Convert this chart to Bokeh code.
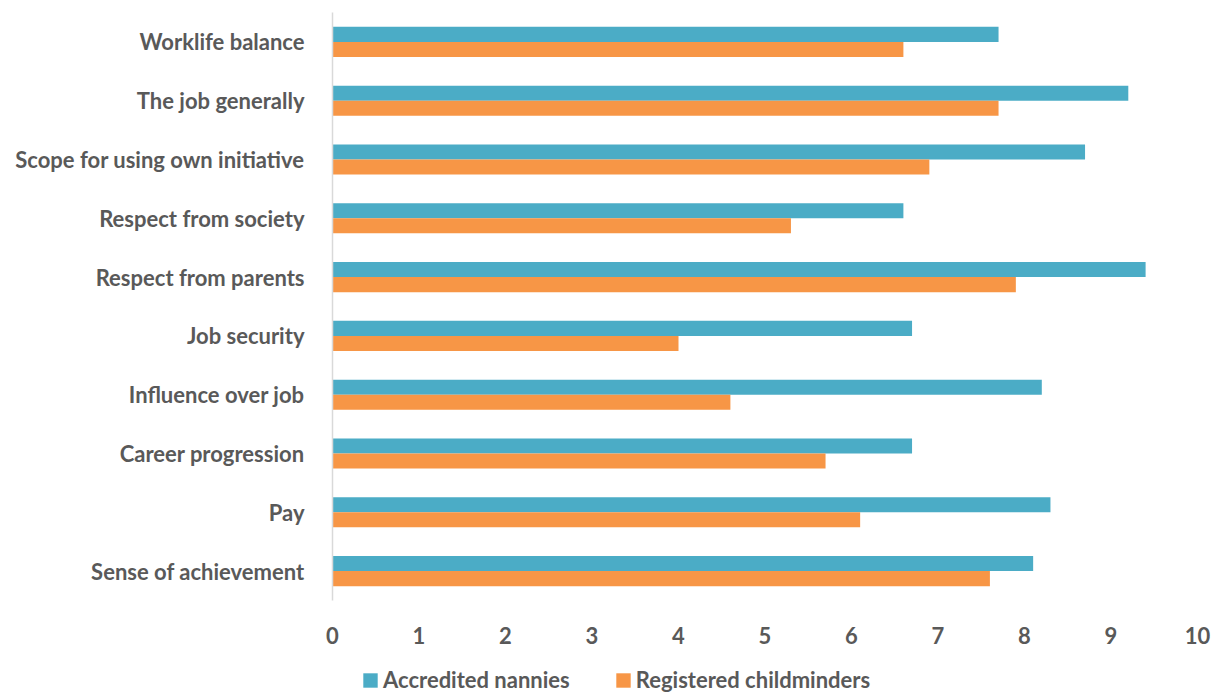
from bokeh.plotting import figure
from bokeh.models import FactorRange, Legend, LegendItem, FixedTicker, ColumnDataSource
from bokeh.layouts import column
from bokeh.transform import dodge
from bokeh.embed import file_html
from bokeh.resources import INLINE

categories = ["Worklife balance", "The job generally", "Scope for using own initiative",
              "Respect from society", "Respect from parents", "Job security",
              "Influence over job", "Career progression", "Pay", "Sense of achievement"]
nannies = [7.7, 9.2, 8.7, 6.6, 9.4, 6.7, 8.2, 6.7, 8.3, 8.1]
childminders = [6.6, 7.7, 6.9, 5.3, 7.9, 4.0, 4.6, 5.7, 6.1, 7.6]
x_ticks = [0, 1, 2, 3, 4, 5, 6, 7, 8, 9, 10]
series_names = ["Accredited nannies", "Registered childminders"]

FONT = "Lato"
TXT = "#595959"
TEAL = "#4BACC6"
ORANGE = "#F79646"

src = ColumnDataSource(dict(cat=categories, nannies=nannies, childminders=childminders))

p = figure(width=1212, height=650, output_backend="svg", toolbar_location=None,
           y_range=FactorRange(*list(reversed(categories)), range_padding=0),
           x_range=(0, 10))
p.min_border_left = 332
p.min_border_right = 15
p.min_border_top = 12
p.min_border_bottom = 50
p.outline_line_color = None
p.background_fill_color = "white"
p.border_fill_color = "white"

bh = 0.256
p.hbar(y=dodge("cat", bh / 2, range=p.y_range), left=0, right="nannies", height=bh,
       source=src, fill_color=TEAL, line_color=None)
p.hbar(y=dodge("cat", -bh / 2, range=p.y_range), left=0, right="childminders", height=bh,
       source=src, fill_color=ORANGE, line_color=None)

p.xgrid.visible = False
p.ygrid.visible = False

p.xaxis.ticker = FixedTicker(ticks=x_ticks)
p.xaxis.axis_line_color = None
p.xaxis.major_tick_line_color = None
p.xaxis.minor_tick_line_color = None
p.xaxis.major_label_text_font = FONT
p.xaxis.major_label_text_font_style = "bold"
p.xaxis.major_label_text_font_size = "22px"
p.xaxis.major_label_text_color = TXT
p.xaxis.major_label_standoff = 20

p.yaxis.axis_line_color = "#D9D9D9"
p.yaxis.axis_line_width = 1.5
p.yaxis.major_tick_line_color = None
p.yaxis.minor_tick_line_color = None
p.yaxis.major_label_text_font = FONT
p.yaxis.major_label_text_font_style = "bold"
p.yaxis.major_label_text_font_size = "22px"
p.yaxis.major_label_text_color = TXT
p.yaxis.major_label_standoff = 22

# legend strip below the chart (zero-size proxy glyphs only carry the legend colours)
p2 = figure(width=1212, height=44, output_backend="svg", toolbar_location=None,
            x_range=(0, 1), y_range=(0, 1), x_axis_location=None, y_axis_location=None,
            min_border=0)
p2.outline_line_color = None
p2.xgrid.visible = False
p2.ygrid.visible = False
l1 = p2.hbar(y=[0], left=[0], right=[0], height=0, fill_color=TEAL, line_color=None)
l2 = p2.hbar(y=[0], left=[0], right=[0], height=0, fill_color=ORANGE, line_color=None)
legend = Legend(items=[LegendItem(label=series_names[0], renderers=[l1]),
                       LegendItem(label=series_names[1], renderers=[l2])],
                orientation="horizontal", location=(29, 1),
                glyph_width=18, glyph_height=18, label_standoff=4, spacing=44,
                label_height=20,
                label_text_font=FONT, label_text_font_style="bold",
                label_text_font_size="22px", label_text_color=TXT,
                border_line_color=None, background_fill_alpha=0, padding=0, margin=0)
p2.add_layout(legend, "center")

open("out.html", "w").write(file_html(column(p, p2, spacing=0), INLINE))
